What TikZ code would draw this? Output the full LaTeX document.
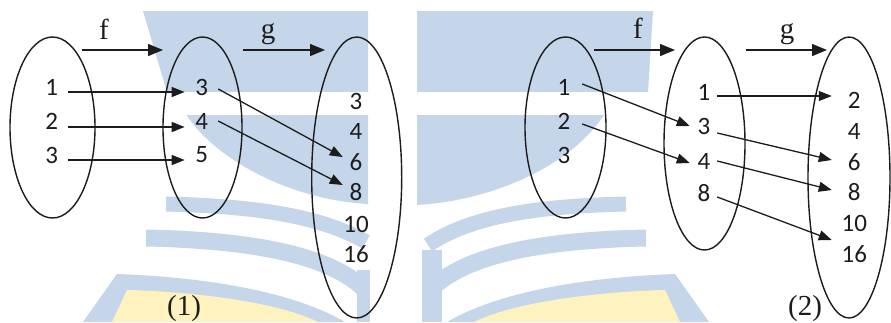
\documentclass[tikz,border=0pt]{standalone}
\usepackage{fontspec}
\setmainfont{Liberation Serif}
\newfontfamily\digitfont{Carlito}
\usetikzlibrary{arrows.meta,shapes.geometric}

\definecolor{ink}{RGB}{28,28,28}
\definecolor{wmblue}{RGB}{197,213,234}
\definecolor{wmyellow}{RGB}{254,243,190}

\begin{document}
\begin{tikzpicture}[x=1pt,y=-1pt,
  setshape/.style={draw=ink, line width=1.4pt, ellipse, inner sep=0pt},
  elem/.style={font=\digitfont\fontsize{25}{27}\selectfont, text=ink, inner sep=0pt},
  maplabel/.style={font=\fontsize{29}{31}\selectfont, text=ink, inner sep=0pt},
  link/.style={draw=ink, line width=1.3pt, -{Triangle[length=13pt,width=10pt]}},
  maparrow/.style={draw=ink, line width=1.3pt, -{Triangle[length=15pt,width=12pt]}},
  band/.style={draw=wmblue, line cap=butt, line join=round},
]
\fill[white] (0,0) rectangle (891,322);
\useasboundingbox (0,0) rectangle (891,322);

% ---- faint emblem in the background ----
% upper blocks
\fill[wmblue] (368,11) -- (143,11) -- (167,92) -- (182,108)
  .. controls (212,160) and (292,200) .. (368,204) -- cycle;
\fill[wmblue] (417,11) -- (653,11) -- (648,92) -- (608,108)
  .. controls (580,160) and (500,200) .. (417,205) -- cycle;
\fill[white] (120,92) rectangle (670,115);
% page stripes, left half
\draw[band, line width=15pt] (166,204) .. controls (250,206) and (320,215) .. (366,242);
\draw[band, line width=17pt] (146,238) .. controls (240,240) and (325,252) .. (363,288);
\draw[band, line width=13pt] (363,270) -- (363,322);
\fill[wmblue] (117,274) .. controls (200,277) and (290,290) .. (345,322) -- (83,322) -- cycle;
\fill[wmyellow] (127,290) .. controls (200,292) and (280,303) .. (318,322) -- (112,322) -- cycle;
% page stripes, right half
\draw[band, line width=15pt] (626,204) .. controls (542,206) and (472,215) .. (428,245);
\draw[band, line width=17pt] (646,238) .. controls (552,240) and (470,252) .. (432,288);
\draw[band, line width=20pt] (432,250) -- (432,322);
\fill[wmblue] (675,274) .. controls (592,277) and (502,290) .. (447,322) -- (709,322) -- cycle;
\fill[wmyellow] (665,290) .. controls (592,292) and (512,303) .. (474,322) -- (680,322) -- cycle;

% ---- diagram (1) ----
\node[setshape, minimum width=85pt, minimum height=181pt] (A1) at (52.5,127.5) {};
\node[setshape, minimum width=79pt, minimum height=181pt] (B1) at (202.5,127.5) {};
\node[setshape, minimum width=90pt, minimum height=281pt] (C1) at (356.7,177.5) {};

\node[elem] (a1) at (51.7,87.5) {1};
\node[elem] (a2) at (51.7,121) {2};
\node[elem] (a3) at (51.7,155) {3};
\node[elem] (b3) at (201.7,87.5) {3};
\node[elem] (b4) at (201.7,121) {4};
\node[elem] (b5) at (201.7,155) {5};
\node[elem] (c3) at (356,101.5) {3};
\node[elem] (c4) at (356,131.6) {4};
\node[elem] (c6) at (356,162.5) {6};
\node[elem] (c8) at (356,192.5) {8};
\node[elem] (c10) at (356,224) {10};
\node[elem] (c16) at (356,254) {16};

\node[maplabel] (f1) at (104,29) {f};
\node[maplabel] (g1) at (268,34) {g};
\coordinate (f1s) at (82,50);
\coordinate (f1e) at (163,50);
\coordinate (g1s) at (243,50);
\coordinate (g1e) at (325,50);
\draw[maparrow] (f1s) -- (f1e);
\draw[maparrow] (g1s) -- (g1e);

\draw[link] ([shift={(10,4.5)}]a1.east) -- ([shift={(-10.5,4.5)}]b3.west);
\draw[link] ([shift={(10,6)}]a2.east) -- ([shift={(-10.5,6)}]b4.west);
\draw[link] ([shift={(10,5)}]a3.east) -- ([shift={(-10.5,5)}]b5.west);
\draw[link] ([shift={(10,1.5)}]b3.east) -- ([shift={(-6.7,-5.5)}]c6.west);
\draw[link] ([shift={(10,0)}]b4.east) -- ([shift={(-6.7,-7.5)}]c8.west);

\node[maplabel] (n1) at (184,309) {(1)};

% ---- diagram (2) ----
\node[setshape, minimum width=81pt, minimum height=181pt] (D2) at (565.5,127.5) {};
\node[setshape, minimum width=81pt, minimum height=213pt] (E2) at (704.5,143.5) {};
\node[setshape, minimum width=82pt, minimum height=281pt] (F2) at (849,177.5) {};

\node[elem] (d1) at (564,87.5) {1};
\node[elem] (d2) at (564,121) {2};
\node[elem] (d3) at (564,155.8) {3};
\node[elem] (e1) at (704,92.5) {1};
\node[elem] (e3) at (704,126) {3};
\node[elem] (e4) at (704,161) {4};
\node[elem] (e8) at (704,193) {8};
\node[elem] (h2) at (854.3,100.8) {2};
\node[elem] (h4) at (854.3,131.6) {4};
\node[elem] (h6) at (854.3,162.5) {6};
\node[elem] (h8) at (854.3,192.5) {8};
\node[elem] (h10) at (854.3,223) {10};
\node[elem] (h16) at (854.3,254) {16};

\node[maplabel] (f2) at (638,28) {f};
\node[maplabel] (g2) at (787,34) {g};
\coordinate (f2s) at (594,50);
\coordinate (f2e) at (675,50);
\coordinate (g2s) at (746,50);
\coordinate (g2e) at (827,50);
\draw[maparrow] (f2s) -- (f2e);
\draw[maparrow] (g2s) -- (g2e);

\draw[link] ([shift={(11.7,-3.5)}]d1.east) -- ([shift={(-7.7,0)}]e3.west);
\draw[link] ([shift={(11.7,3)}]d2.east) -- ([shift={(-7.7,2)}]e4.west);
\draw[link] ([shift={(6.7,3.5)}]e1.east) -- ([shift={(-16,-4.8)}]h2.west);
\draw[link] ([shift={(6.7,7)}]e3.east) -- ([shift={(-16,-2.5)}]h6.west);
\draw[link] ([shift={(6.7,0)}]e4.east) -- ([shift={(-16,-2.5)}]h8.west);
\draw[link] ([shift={(6.7,4)}]e8.east) -- ([shift={(-9.7,-14)}]h16.west);

\node[maplabel] (n2) at (805,309) {(2)};
\end{tikzpicture}
\end{document}
